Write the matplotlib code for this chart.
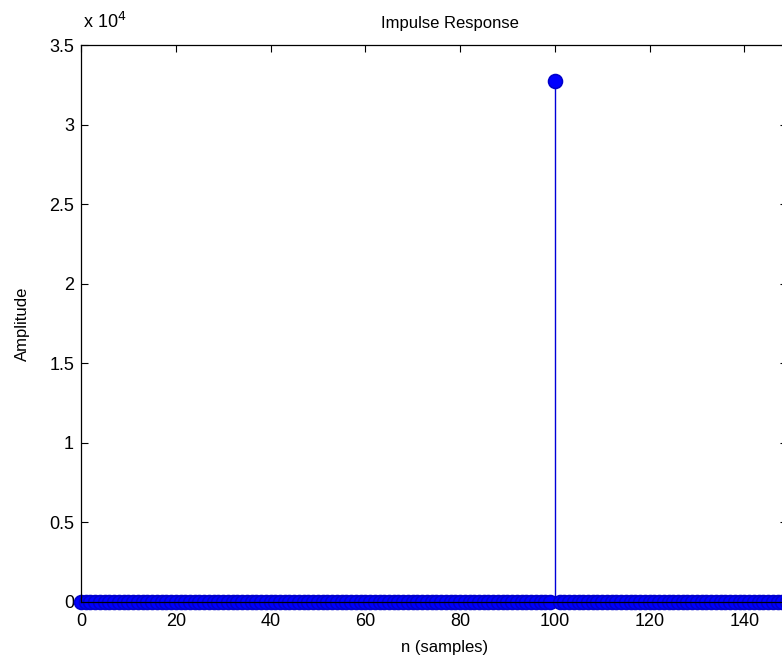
import numpy as np
import matplotlib
matplotlib.use("Agg")
import matplotlib.pyplot as plt
from matplotlib.ticker import FuncFormatter

# Data
n = np.arange(0, 150)
amplitude = np.zeros(150)
impulse_index = 100
impulse_value = 32768
amplitude[impulse_index] = impulse_value

title_text = "Impulse Response"
xlabel_text = "n (samples)"
ylabel_text = "Amplitude"
xticks = [0, 20, 40, 60, 80, 100, 120, 140]
yticks = [0, 5000, 10000, 15000, 20000, 25000, 30000, 35000]

plt.rcParams['font.family'] = ['Liberation Sans', 'DejaVu Sans']

fig = plt.figure(figsize=(7.82, 6.61), dpi=100)
ax = fig.add_axes([81/782, 59/661, 706/782, 557/661])

blue = (0, 0, 1)
markerline, stemlines, baseline = ax.stem(n, amplitude, linefmt='-', markerfmt='o', basefmt=' ')
plt.setp(stemlines, color=(0, 0, 0.85), linewidth=1.0)
plt.setp(markerline, color=blue, markersize=10, markerfacecolor=blue,
         markeredgecolor=(0, 0, 0.8), markeredgewidth=1.2, clip_on=False)

ax.set_xlim(0, 149)
ax.set_ylim(0, 35000)
ax.set_xticks(xticks)
ax.set_yticks(yticks)
ax.yaxis.set_major_formatter(FuncFormatter(lambda v, p: f"{v/1e4:g}"))
ax.tick_params(direction='in', length=5, width=0.8, top=True, right=True,
               labelsize=13)
ax.tick_params(axis='x', pad=8)
ax.tick_params(axis='y', pad=5)
for s in ax.spines.values():
    s.set_linewidth(0.9)

ax.set_title(title_text, fontsize=12, x=0.523, pad=12)
ax.set_xlabel(xlabel_text, fontsize=12)
ax.xaxis.set_label_coords(0.515, -0.068)
ax.set_ylabel(ylabel_text, fontsize=12)
ax.yaxis.set_label_coords(-0.072, 0.5)

fig.text(83/782, 1 - 22/661, r"x 10$^{4}$", fontsize=13, va='center', ha='left')

fig.savefig("out.png", dpi=100)
